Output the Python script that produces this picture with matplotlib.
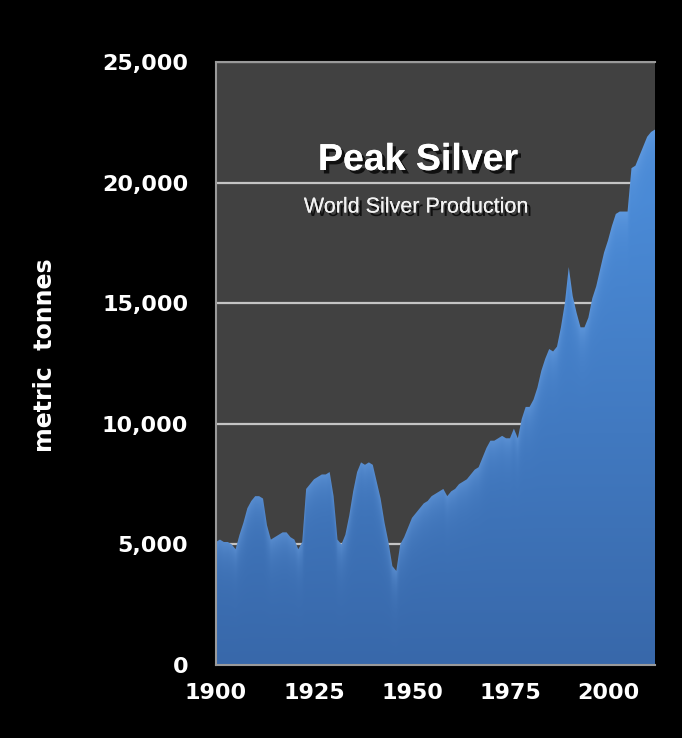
import numpy as np
import matplotlib
matplotlib.use("Agg")
import matplotlib.pyplot as plt
from matplotlib import patheffects as pe
from matplotlib import font_manager as fm
from matplotlib.ticker import FuncFormatter

# World silver production, metric tonnes per year
years = np.arange(1900, 2013)
production = [
    5100, 5200, 5100, 5100, 5000, 4800, 5400, 5900, 6500, 6800,   # 1900s
    7000, 7000, 6900, 5800, 5200, 5300, 5400, 5500, 5500, 5300,   # 1910s
    5200, 4800, 5100, 7300, 7500, 7700, 7800, 7900, 7900, 8000,   # 1920s
    7000, 5200, 5000, 5400, 6200, 7200, 8000, 8400, 8300, 8400,   # 1930s
    8300, 7600, 6900, 5900, 5100, 4100, 3900, 5000, 5300, 5700,   # 1940s
    6100, 6300, 6500, 6700, 6800, 7000, 7100, 7200, 7300, 7000,   # 1950s
    7200, 7300, 7500, 7600, 7700, 7900, 8100, 8200, 8600, 9000,   # 1960s
    9300, 9300, 9400, 9500, 9400, 9400, 9800, 9400, 10200, 10700, # 1970s
    10700, 11000, 11500, 12200, 12700, 13100, 13000, 13200, 14000, 15000,  # 1980s
    16500, 15300, 14600, 14000, 14000, 14400, 15200, 15700, 16400, 17100,  # 1990s
    17600, 18200, 18700, 18800, 18800, 18800, 20600, 20700, 21100, 21500,  # 2000s
    21900, 22100, 22200,                                                   # 2010s
]
x_ticks = [1900, 1925, 1950, 1975, 2000]
y_ticks = [0, 5000, 10000, 15000, 20000, 25000]
title = "Peak Silver"
subtitle = "World Silver Production"
y_label = "metric  tonnes"

W, H = 682, 738
fig = plt.figure(figsize=(W / 100, H / 100), dpi=100, facecolor="black")
left, right, top, bottom = 216, 655, 62, 665
ax = fig.add_axes([left / W, 1 - bottom / H, (right - left) / W, (bottom - top) / H])
ax.set_facecolor("#414141")
ax.set_xlim(years[0], years[-1])
ax.set_ylim(0, 25000)

# horizontal gridlines
for v in y_ticks[1:]:
    ax.axhline(v, color="#c4c4c4", lw=1.6, zorder=1)

# area shape used as clip path for the shaded fill
poly = ax.fill_between(years, production, 0, color="none", lw=0, zorder=2)

# shaded fill: lighter close to the top edge, darker toward the base
nx, ny = 900, 700
gx = np.linspace(years[0], years[-1], nx)
gy = np.linspace(0, 25000, ny)
curve = np.interp(gx, years, production)
depth = curve[None, :] - gy[:, None]
frac = gy[:, None] / 25000.0
base_lo = np.array([56, 104, 170]) / 255
base_hi = np.array([74, 138, 214]) / 255
hl = np.array([120, 172, 235]) / 255
base = base_lo + (base_hi - base_lo) * np.clip(frac * 1.3, 0, 1)[..., None]
glow = (np.exp(-np.clip(depth, 0, None) / 700.0) * 0.45)[..., None]
rgb = base * (1 - glow) + hl * glow
img = ax.imshow(rgb, extent=[years[0], years[-1], 0, 25000], origin="lower",
                aspect="auto", zorder=2, interpolation="bilinear")
path = poly.get_paths()[0]
img.set_clip_path(path, transform=ax.transData)

# frame
for side in ["left", "bottom", "top"]:
    ax.spines[side].set_color("#9a9a9a")
    ax.spines[side].set_linewidth(1.5)
ax.spines["right"].set_visible(False)

ax.set_xticks(x_ticks)
ax.set_yticks(y_ticks)
ax.yaxis.set_major_formatter(FuncFormatter(lambda v, p: f"{int(v):,}"))
ax.tick_params(length=0, colors="white", labelsize=16)
ax.tick_params(axis="y", pad=20)
ax.tick_params(axis="x", pad=13)
for lab in ax.get_xticklabels() + ax.get_yticklabels():
    lab.set_fontweight("bold")
    lab.set_family("DejaVu Sans")

fig.text(45 / W, 1 - 355 / H, y_label, rotation=90, color="white",
         fontsize=17, fontweight="bold", family="DejaVu Sans",
         ha="center", va="center")

names = {f.name for f in fm.fontManager.ttflist}
narrow = "Liberation Sans Narrow" if "Liberation Sans Narrow" in names else "Liberation Sans"
sub_size = 18 if narrow == "Liberation Sans Narrow" else 15.5

shadow = [pe.withSimplePatchShadow(offset=(2.5, -2.5), shadow_rgbFace="black", alpha=0.75),
          pe.Normal()]
fig.text(418 / W, 1 - 160 / H, title, color="white", fontsize=27,
         fontweight="bold", family="Liberation Sans", ha="center", va="center",
         path_effects=shadow, zorder=5)
fig.text(416 / W, 1 - 207 / H, subtitle, color="#f2f2f2", fontsize=sub_size,
         family=narrow, ha="center", va="center", path_effects=shadow, zorder=5)

fig.savefig("out.png", dpi=100, facecolor="black")
